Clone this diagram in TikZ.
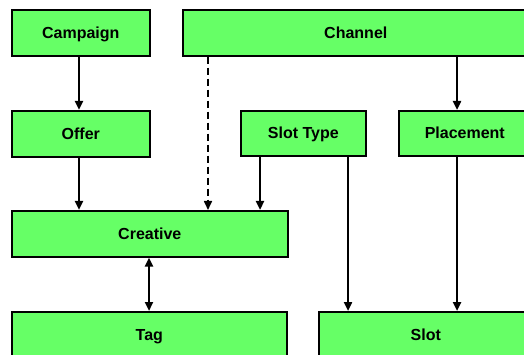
\documentclass[tikz,border=0pt]{standalone}
\usepackage{fontspec}
\setmainfont{Liberation Sans}
\usetikzlibrary{arrows.meta}
\definecolor{boxgreen}{RGB}{102,255,102}
\tikzset{
  entity/.style={draw=black, fill=boxgreen, line width=1.6pt, inner sep=0pt,
    text height=11.4pt, text depth=0pt,
    font=\fontsize{16}{19}\selectfont\bfseries},
  tip/.tip={Triangle[length=9pt,width=8pt]},
  link/.style={line width=2.3pt, -tip},
  weaklink/.style={line width=1.6pt, dash pattern=on 7pt off 4pt, -tip},
  bothlink/.style={line width=2.3pt, tip-tip}
}
\newcommand{\entitybox}[6]{%
  \node[entity, minimum width={(#4-#2)*1pt}, minimum height={(#5-#3)*1pt}, anchor=north west]
    (#1) at (#2,#3) {#6};}
\begin{document}
\begin{tikzpicture}[x=1pt,y=-1pt]
\useasboundingbox (0,0) rectangle (524,355);
\clip (0,0) rectangle (524,355);
\fill[white] (0,0) rectangle (524,355);
% entities
\entitybox{campaign}{11}{9}{149}{55}{Campaign}
\entitybox{channel}{182}{9}{528}{55}{Channel}
\entitybox{offer}{11}{110}{149}{156}{Offer}
\entitybox{slottype}{240}{110}{365}{155}{Slot Type}
\entitybox{placement}{398}{110}{530}{155}{Placement}
\entitybox{creative}{11}{210}{287}{256}{Creative}
\entitybox{tag}{11}{311}{286}{357}{Tag}
\entitybox{slot}{318}{311}{532}{357}{Slot}
% x positions of the vertical links
\coordinate (xa) at (79,0);
\coordinate (xd) at (208,0);
\coordinate (xs) at (260,0);
\coordinate (xt) at (348,0);
\coordinate (xp) at (457,0);
\coordinate (xc) at (149,0);
% links
\draw[link] (campaign.south -| xa) -- (offer.north -| xa);
\draw[link] (offer.south -| xa) -- (creative.north -| xa);
\draw[weaklink] (channel.south -| xd) -- (creative.north -| xd);
\draw[link] (slottype.south -| xs) -- (creative.north -| xs);
\draw[link] (channel.south -| xp) -- (placement.north -| xp);
\draw[link] (slottype.south -| xt) -- (slot.north -| xt);
\draw[link] (placement.south -| xp) -- (slot.north -| xp);
\draw[bothlink] (creative.south -| xc) -- (tag.north -| xc);
\end{tikzpicture}
\end{document}
